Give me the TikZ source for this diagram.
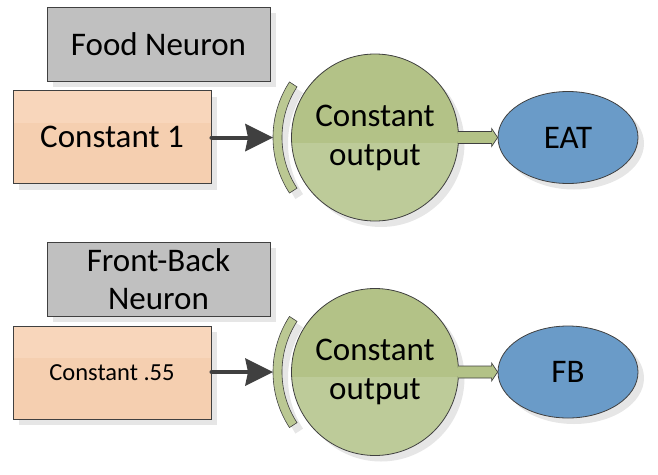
\documentclass[tikz,border=0pt]{standalone}
\usepackage{fontspec}
\setmainfont{Carlito}
\usetikzlibrary{shapes.geometric,arrows.meta,shadows,calc}
\definecolor{edgec}{HTML}{404040}
\definecolor{grayf}{HTML}{C0C0C0}
\definecolor{peach}{HTML}{F5CFB0}
\definecolor{peachl}{HTML}{F8D6BB}
\definecolor{greend}{HTML}{B3C287}
\definecolor{greenl}{HTML}{BDCB99}
\definecolor{bluef}{HTML}{6A9BC8}
\definecolor{shad}{HTML}{E6E6E6}
\tikzset{
  shd/.style={drop shadow={shadow xshift=6pt, shadow yshift=-6pt, fill=shad, opacity=1}},
  labelbox/.style={draw=edgec, line width=0.9pt, fill=grayf, minimum width=223pt,
    minimum height=74pt, inner sep=0pt, align=center, font=\fontsize{33}{38}\selectfont, shd},
  constbox/.style={draw=edgec, line width=0.9pt, fill=peach, minimum width=198pt,
    minimum height=93pt, inner sep=0pt, align=center, shd,
    path picture={\fill[peachl] (path picture bounding box.north west) rectangle ($(path picture bounding box.east)+(0,-14)$);}},
  neuron/.style={circle, draw=edgec, line width=0.8pt, fill=greenl, minimum size=167pt,
    inner sep=0pt, align=center, font=\fontsize{33}{39}\selectfont, shd,
    path picture={\fill[greend] (path picture bounding box.north west) rectangle ($(path picture bounding box.east)+(0,5)$);}},
  outnode/.style={ellipse, draw=edgec, line width=0.8pt, fill=bluef, minimum width=140pt,
    minimum height=92pt, inner sep=0pt, font=\fontsize{33}{38}\selectfont, shd},
  arcband/.style={draw=edgec, line width=0.6pt, fill=greend!90!white, shd},
  inarrow/.style={draw=edgec, line width=4pt, line cap=round,
    -{Stealth[length=28pt, width=28pt, inset=3pt, line width=0pt]}},
  garrowfill/.style={fill=greend},
  garrowline/.style={draw=edgec, line width=0.7pt, line join=miter},
}
\begin{document}
\begin{tikzpicture}[x=1pt, y=-1pt]
\useasboundingbox (0,0) rectangle (658,474);

% upper row
\node[labelbox] (l1) at (158.5,44) {Food Neuron};
\node[constbox] (k1) at (112,137) {\fontsize{33}{38}\selectfont Constant 1};
\node[neuron] (c1) at (375,137.5) {Constant\\output};
\node[outnode] (e1) at (568,137.5) {EAT};
\coordinate (t1) at ($(c1.center)+(-102,0)$);
\draw[arcband] ($(c1.center)+(147:93pt)$) arc[start angle=147, end angle=213, radius=93pt]
  -- ($(c1.center)+(213:102pt)$) arc[start angle=213, end angle=147, radius=102pt] -- cycle;
\draw[inarrow] (k1.east |- t1) -- (t1);
\fill[garrowfill] ($(c1.east)+(-1,-6)$) -- ($(e1.west)+(-6,-6)$) -- ($(e1.west)+(-6,-9)$)
  -- (e1.west) -- ($(e1.west)+(-6,9)$) -- ($(e1.west)+(-6,6)$) -- ($(c1.east)+(-1,6)$) -- cycle;
\draw[garrowline] ($(c1.east)+(-1,-6)$) -- ($(e1.west)+(-6,-6)$) -- ($(e1.west)+(-6,-9)$)
  -- (e1.west) -- ($(e1.west)+(-6,9)$) -- ($(e1.west)+(-6,6)$) -- ($(c1.east)+(-1,6)$);

% lower row
\node[labelbox] (l2) at (158.5,279) {Front-Back\\Neuron};
\node[constbox, path picture={\fill[peachl] (path picture bounding box.north west) rectangle ($(path picture bounding box.east)+(0,-15)$);}] (k2) at (112,372.5) {\fontsize{24.5}{29}\selectfont Constant .55};
\node[neuron] (c2) at (375,372) {Constant\\output};
\node[outnode] (e2) at (568,372) {FB};
\coordinate (t2) at ($(c2.center)+(-102,0)$);
\draw[arcband] ($(c2.center)+(147:93pt)$) arc[start angle=147, end angle=213, radius=93pt]
  -- ($(c2.center)+(213:102pt)$) arc[start angle=213, end angle=147, radius=102pt] -- cycle;
\draw[inarrow] (k2.east |- t2) -- (t2);
\fill[garrowfill] ($(c2.east)+(-1,-6)$) -- ($(e2.west)+(-6,-6)$) -- ($(e2.west)+(-6,-9)$)
  -- (e2.west) -- ($(e2.west)+(-6,9)$) -- ($(e2.west)+(-6,6)$) -- ($(c2.east)+(-1,6)$) -- cycle;
\draw[garrowline] ($(c2.east)+(-1,-6)$) -- ($(e2.west)+(-6,-6)$) -- ($(e2.west)+(-6,-9)$)
  -- (e2.west) -- ($(e2.west)+(-6,9)$) -- ($(e2.west)+(-6,6)$) -- ($(c2.east)+(-1,6)$);
\end{tikzpicture}
\end{document}
